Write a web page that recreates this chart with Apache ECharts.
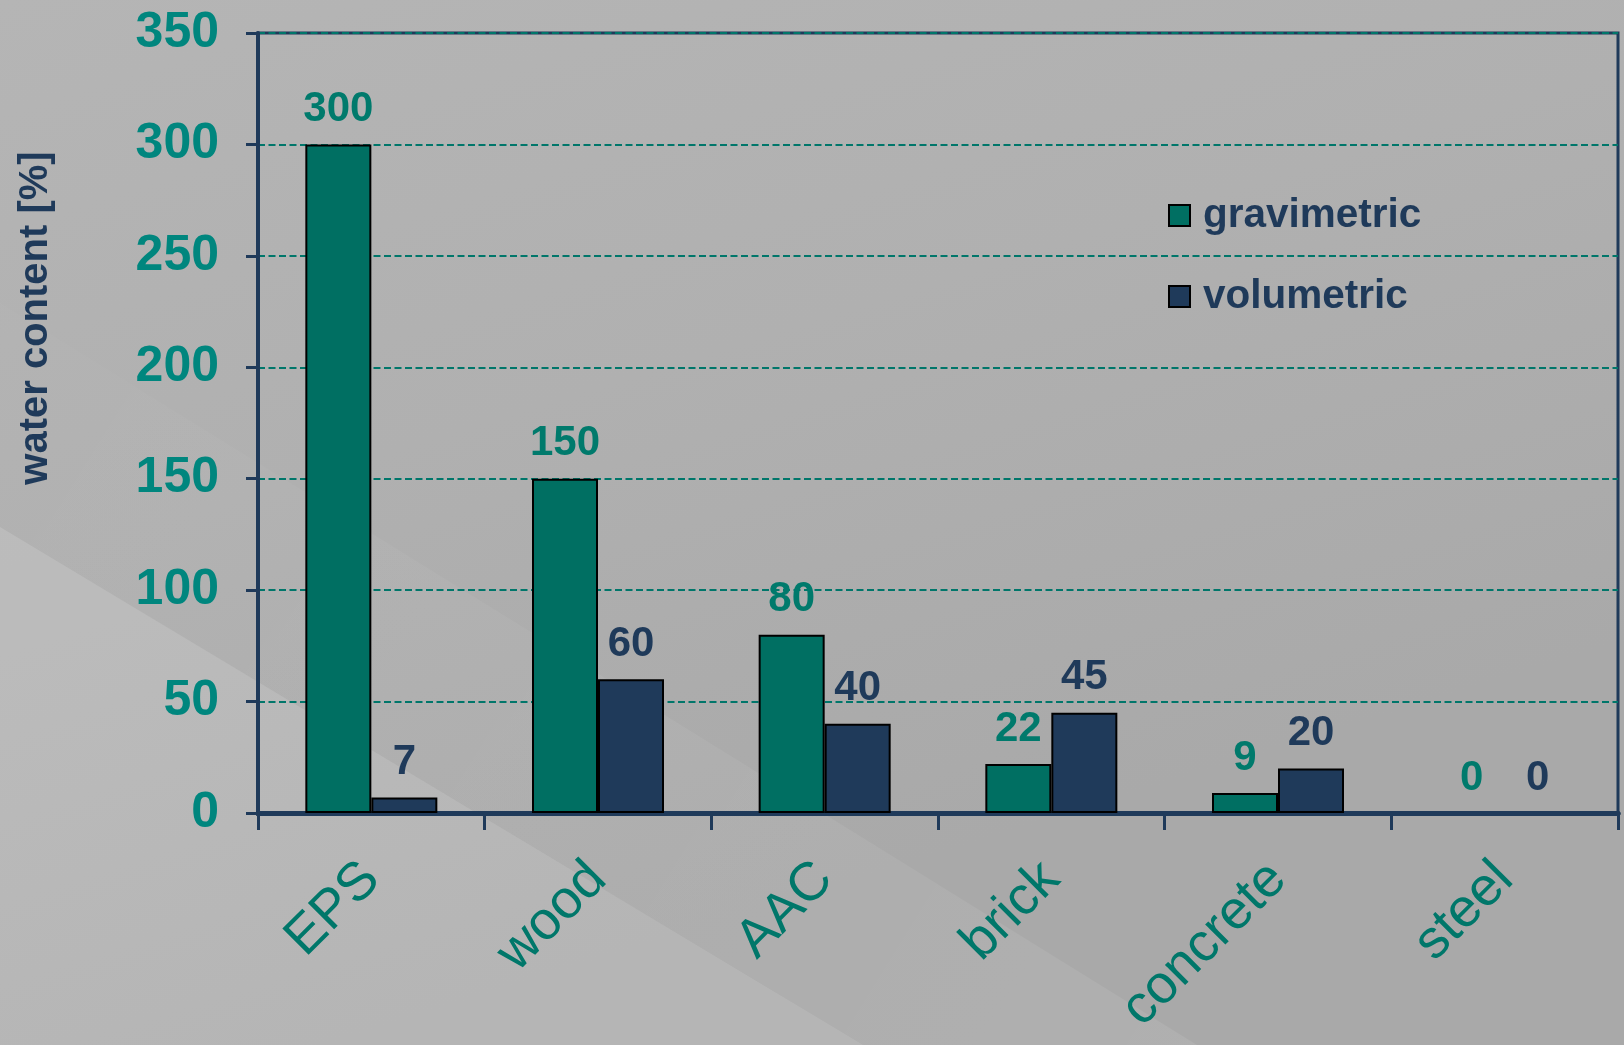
<!DOCTYPE html>
<html>
<head>
<meta charset="utf-8">
<script src="https://cdn.jsdelivr.net/npm/echarts@6/dist/echarts.min.js"></script>
<style>
  html, body { margin: 0; padding: 0; background: #b2b2b2; }
  #chart { width: 1624px; height: 1045px; }
</style>
</head>
<body>
<div id="chart"></div>
<script>
// Water content of building materials
const categories = ['EPS', 'wood', 'AAC', 'brick', 'concrete', 'steel'];
const gravimetric = [300, 150, 80, 22, 9, 0];
const volumetric = [7, 60, 40, 45, 20, 0];
const seriesNames = ['gravimetric', 'volumetric'];
const yMin = 0;
const yMax = 350;
const yStep = 50;
const yAxisTitle = 'water content [%]';

const FONT = '"Liberation Sans", Arial, sans-serif';
const NAVY = '#1f3a5a';
const GREEN = '#006f62';
const TEAL_TICK = '#00867e';
const TEAL_CAT = '#00776a';

const chart = echarts.init(document.getElementById('chart'), null, { renderer: 'canvas' });

// zero-height bars get no outline so nothing shows along the axis
function barData(values) {
  return values.map(function (v) {
    return v === 0 ? { value: v, itemStyle: { borderWidth: 0 } } : v;
  });
}

const barBase = {
  type: 'bar',
  barWidth: 66,
  barGap: '0%',
  label: {
    show: true,
    position: 'top',
    distance: 14,
    fontFamily: FONT,
    fontWeight: 'bold',
    fontSize: 42
  }
};

chart.setOption({
  animation: false,
  backgroundColor: 'transparent',
  graphic: [
    // backdrop with soft diagonal light bands
    {
      type: 'rect', z: -30, silent: true,
      shape: { x: 0, y: 0, width: 1624, height: 1045 },
      style: {
        fill: new echarts.graphic.LinearGradient(0, 0, 0.2, 1, [
          { offset: 0, color: '#b5b5b5' },
          { offset: 0.5, color: '#b0b0b0' },
          { offset: 1, color: '#a9a9a9' }
        ])
      }
    },
    {
      type: 'polygon', z: -29, silent: true,
      shape: { points: [[0, 303], [1197, 1045], [863, 1045], [0, 527]] },
      style: {
        fill: new echarts.graphic.LinearGradient(0, 0, 1, 1, [
          { offset: 0, color: 'rgba(255,255,255,0.01)' },
          { offset: 1, color: 'rgba(255,255,255,0.08)' }
        ])
      }
    },
    {
      type: 'polygon', z: -28, silent: true,
      shape: { points: [[0, 527], [863, 1045], [0, 1045]] },
      style: { fill: 'rgba(255,255,255,0.15)' }
    },
    {
      type: 'text', silent: true,
      x: 36, y: 318, rotation: Math.PI / 2,
      style: {
        text: yAxisTitle,
        fill: NAVY,
        font: 'bold 40px ' + FONT,
        align: 'center',
        verticalAlign: 'middle'
      }
    }
  ],
  grid: {
    left: 258, right: 6, top: 33, bottom: 232,
    show: true,
    borderColor: NAVY,
    borderWidth: 3,
    backgroundColor: 'transparent'
  },
  legend: {
    orient: 'vertical',
    left: 1168,
    top: 195,
    padding: 0,
    itemWidth: 21,
    itemHeight: 21,
    itemGap: 40,
    icon: 'rect',
    itemStyle: { borderColor: '#000', borderWidth: 2 },
    textStyle: {
      fontFamily: FONT,
      fontWeight: 'bold',
      fontSize: 40.5,
      lineHeight: 40,
      color: NAVY,
      padding: [0, 0, 0, 8]
    },
    data: seriesNames
  },
  xAxis: [
    {
      type: 'category',
      data: categories,
      position: 'bottom',
      axisLine: { show: true, onZero: false, lineStyle: { color: NAVY, width: 5 } },
      axisTick: { show: true, length: 17, lineStyle: { color: NAVY, width: 3 } },
      axisLabel: {
        rotate: 45,
        margin: 58,
        fontFamily: FONT,
        fontSize: 54,
        color: TEAL_CAT
      },
      splitLine: { show: false }
    },
    {
      type: 'category',
      data: categories,
      position: 'top',
      axisLine: { show: true, lineStyle: { color: NAVY, width: 5 } },
      axisTick: { show: false },
      axisLabel: { show: false }
    }
  ],
  yAxis: {
    type: 'value',
    min: yMin,
    max: yMax,
    interval: yStep,
    axisLine: { show: true, lineStyle: { color: NAVY, width: 4 } },
    axisTick: { show: true, length: 12, lineStyle: { color: NAVY, width: 3 } },
    axisLabel: {
      margin: 39,
      fontFamily: FONT,
      fontWeight: 'bold',
      fontSize: 50,
      color: TEAL_TICK
    },
    splitLine: {
      show: true,
      lineStyle: { color: '#00766a', width: 2, type: [7, 3.5] }
    }
  },
  series: [
    Object.assign({}, barBase, {
      name: seriesNames[0],
      data: barData(gravimetric),
      itemStyle: { color: GREEN, borderColor: '#000', borderWidth: 2 },
      label: Object.assign({}, barBase.label, { color: '#007a6c' })
    }),
    Object.assign({}, barBase, {
      name: seriesNames[1],
      data: barData(volumetric),
      itemStyle: { color: NAVY, borderColor: '#000', borderWidth: 2 },
      label: Object.assign({}, barBase.label, { color: NAVY })
    })
  ]
});
</script>
</body>
</html>
